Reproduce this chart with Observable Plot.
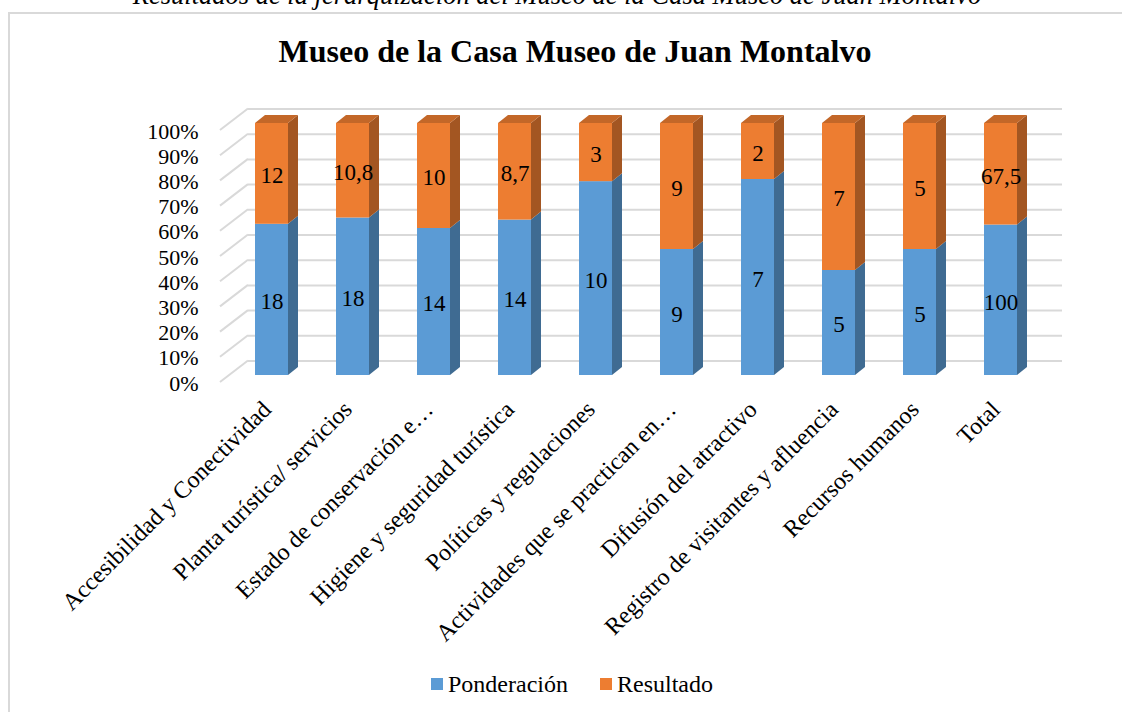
<!DOCTYPE html>
<html>
<head>
<meta charset="utf-8">
<script src="https://cdn.jsdelivr.net/npm/d3@7"></script>
<script src="https://cdn.jsdelivr.net/npm/@observablehq/plot@0.6"></script>
<style>
  body { margin: 0; background: #fff; overflow: hidden; }
  #page { position: relative; width: 1122px; height: 712px; overflow: hidden; font-family: "Liberation Serif", "Times New Roman", serif; color: #000; }
  #caption { position: absolute; left: 0; width: 1114px; top: -18px; text-align: center; font-style: italic; font-size: 26.5px; line-height: 1; white-space: nowrap; }
  #frame { position: absolute; left: 8px; top: 12px; width: 1300px; height: 900px; border-left: 2px solid #d9d9d9; border-top: 2px solid #d9d9d9; }
  #title { position: absolute; left: 0; width: 1150px; top: 35px; text-align: center; font-weight: bold; font-size: 32px; line-height: 1; white-space: nowrap; }
  #chart { position: absolute; left: 0; top: 80px; }
  #chart svg, #chart svg text { font-family: "Liberation Serif", "Times New Roman", serif !important; }
  #legend { position: absolute; left: 431px; top: 672px; display: flex; align-items: center; font-size: 24px; line-height: 1; }
  #legend .item { display: flex; align-items: center; margin-right: 32px; }
  #legend .sw { width: 12px; height: 12px; margin-right: 5px; }
</style>
</head>
<body>
<div id="page">
  <div id="caption">Resultados de la jerarquización del Museo de la Casa Museo de Juan Montalvo</div>
  <div id="frame"></div>
  <div id="title">Museo de la Casa Museo de Juan Montalvo</div>
  <div id="chart"></div>
  <div id="legend"></div>
</div>
<script>
// ---- data ----
const categories = [
  "Accesibilidad y Conectividad",
  "Planta turística/ servicios",
  "Estado de conservación e…",
  "Higiene y seguridad turística",
  "Políticas y regulaciones",
  "Actividades que se practican en…",
  "Difusión del atractivo",
  "Registro de visitantes y afluencia",
  "Recursos humanos",
  "Total"
];
const series = ["Ponderación", "Resultado"];
const ponderacion = [18, 18, 14, 14, 10, 9, 7, 5, 5, 100];
const resultado = [12, 10.8, 10, 8.7, 3, 9, 2, 7, 5, 67.5];
const yTicks = [0, 0.1, 0.2, 0.3, 0.4, 0.5, 0.6, 0.7, 0.8, 0.9, 1];
const colors = ["#5B9BD5", "#ED7D31"];

const rows = [
  ...categories.map((c, i) => ({cat: c, serie: series[0], value: ponderacion[i]})),
  ...categories.map((c, i) => ({cat: c, serie: series[1], value: resultado[i]}))
];
const fmt = v => String(v).replace(".", ",");
const serif = '"Liberation Serif", "Times New Roman", serif';

const plot = Plot.plot({
  width: 1122,
  height: 570,
  marginTop: 43,
  marginBottom: 275,
  marginLeft: 205,
  marginRight: 55,
  style: {fontFamily: serif, fontSize: "22px", color: "#000", background: "transparent", overflow: "visible"},
  x: {domain: categories, padding: 0.594, label: null},
  y: {domain: [0, 1], label: null},
  color: {domain: series, range: colors},
  marks: [
    Plot.ruleY(yTicks, {y: d => d, stroke: "#d9d9d9", strokeWidth: 2, dy: -14.5, insetLeft: 43, insetRight: 5}),
    Plot.barY(rows, {x: "cat", y: "value", fill: "serie", offset: "normalize"}),
    Plot.text(rows, Plot.stackY({x: "cat", y: "value", offset: "normalize", text: d => fmt(d.value), fontSize: 23, fontFamily: serif, dy: 2, fill: "#000"})),
    Plot.axisY({ticks: yTicks, tickFormat: d => Math.round(d * 100) + "%", tickSize: 0, tickPadding: 7, dy: 8, fontSize: 22, fontFamily: serif}),
    Plot.axisX({tickRotate: -45, tickSize: 0, tickPadding: 30, fontSize: 24, fontFamily: serif, dx: -5})
  ]
});
document.getElementById("chart").appendChild(plot);

// ---- 3D decorations derived from Plot's scales and bars ----
const ns = "http://www.w3.org/2000/svg";
const ys = plot.scale("y");
const xLeft = 205;
const wallG = document.createElementNS(ns, "g");
for (const t of yTicks) {
  const yv = ys.apply(t);
  const l = document.createElementNS(ns, "line");
  l.setAttribute("x1", xLeft + 15); l.setAttribute("y1", yv + 7);
  l.setAttribute("x2", xLeft + 43); l.setAttribute("y2", yv - 14.5);
  l.setAttribute("stroke", "#d9d9d9"); l.setAttribute("stroke-width", 2);
  wallG.appendChild(l);
}
plot.insertBefore(wallG, plot.querySelector("g"));

const barG = plot.querySelector('g[aria-label="bar"]');
const rects = Array.from(barG.querySelectorAll("rect"));
const depthX = 10, depthY = 8;
const faceG = document.createElementNS(ns, "g");
const topByX = new Map();
for (const r of rects) {
  const x = +r.getAttribute("x"), y = +r.getAttribute("y"), w = +r.getAttribute("width"), h = +r.getAttribute("height");
  const fill = r.getAttribute("fill");
  const side = document.createElementNS(ns, "polygon");
  side.setAttribute("points", `${x + w},${y} ${x + w + depthX},${y - depthY} ${x + w + depthX},${y + h - depthY} ${x + w},${y + h}`);
  side.setAttribute("fill", d3.color(fill).darker(1.05).formatHex());
  faceG.appendChild(side);
  const k = Math.round(x);
  if (!topByX.has(k) || topByX.get(k).y > y) topByX.set(k, {x, y, w, fill});
}
for (const {x, y, w, fill} of topByX.values()) {
  const top = document.createElementNS(ns, "polygon");
  top.setAttribute("points", `${x},${y} ${x + depthX},${y - depthY} ${x + w + depthX},${y - depthY} ${x + w},${y}`);
  top.setAttribute("fill", d3.color(fill).darker(0.55).formatHex());
  faceG.appendChild(top);
}
barG.parentNode.insertBefore(faceG, barG.nextSibling);

// ---- legend ----
const legend = document.getElementById("legend");
series.forEach((s, i) => {
  const item = document.createElement("div");
  item.className = "item";
  const sw = document.createElement("div");
  sw.className = "sw";
  sw.style.background = colors[i];
  const lab = document.createElement("span");
  lab.textContent = s;
  item.appendChild(sw); item.appendChild(lab);
  legend.appendChild(item);
});
</script>
</body>
</html>
